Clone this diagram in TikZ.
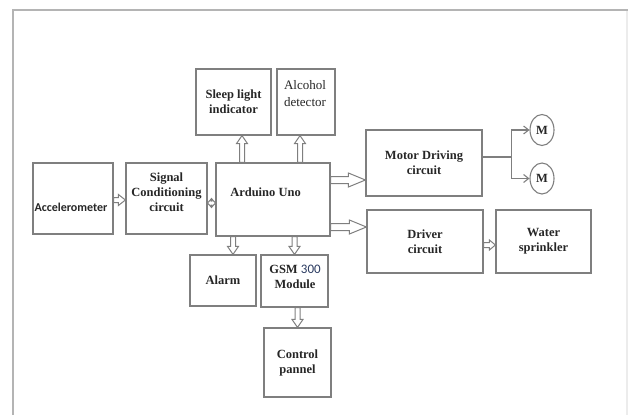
\documentclass[tikz,border=0pt]{standalone}
\usepackage{fontspec}
\setmainfont{Liberation Serif}
\newfontfamily\carl{Carlito}
\usetikzlibrary{calc,arrows.meta,shapes.geometric}
\definecolor{boxc}{HTML}{7F7F7F}
\definecolor{framec}{HTML}{B4B4B4}
\definecolor{faintc}{HTML}{ECECEC}
\definecolor{textc}{HTML}{262626}
\definecolor{numc}{HTML}{2A3A60}
\tikzset{
  bf/.style={font=\bfseries\fontsize{12.5}{15}\selectfont, text=textc},
  box/.style={draw=boxc, line width=1.2pt, align=center, inner sep=0pt, bf},
  txt/.style={align=center, inner sep=0pt, bf},
  motor/.style={draw=boxc, line width=1.1pt, ellipse, minimum width=24pt, minimum height=31pt, inner sep=0pt, bf},
  conn/.style={draw=boxc, line width=1.1pt},
  hollow/.style n args={3}{draw=boxc, line width=1pt, line join=miter, to path={
    -- ($(\tikztostart)!#1!90:(\tikztotarget)$)
    -- ($($(\tikztotarget)!#3!(\tikztostart)$)!#1!90:(\tikztotarget)$)
    -- ($($(\tikztotarget)!#3!(\tikztostart)$)!#2!90:(\tikztotarget)$)
    -- (\tikztotarget)
    -- ($($(\tikztotarget)!#3!(\tikztostart)$)!#2!-90:(\tikztotarget)$)
    -- ($($(\tikztotarget)!#3!(\tikztostart)$)!#1!-90:(\tikztotarget)$)
    -- ($(\tikztostart)!#1!-90:(\tikztotarget)$)
    -- cycle}},
  hollowtwo/.style n args={3}{draw=boxc, line width=1pt, line join=miter, to path={
    -- ($($(\tikztostart)!#3!(\tikztotarget)$)!#2!90:(\tikztotarget)$)
    -- ($($(\tikztostart)!#3!(\tikztotarget)$)!#1!90:(\tikztotarget)$)
    -- ($($(\tikztotarget)!#3!(\tikztostart)$)!#1!90:(\tikztotarget)$)
    -- ($($(\tikztotarget)!#3!(\tikztostart)$)!#2!90:(\tikztotarget)$)
    -- (\tikztotarget)
    -- ($($(\tikztotarget)!#3!(\tikztostart)$)!#2!-90:(\tikztotarget)$)
    -- ($($(\tikztotarget)!#3!(\tikztostart)$)!#1!-90:(\tikztotarget)$)
    -- ($($(\tikztostart)!#3!(\tikztotarget)$)!#1!-90:(\tikztotarget)$)
    -- ($($(\tikztostart)!#3!(\tikztotarget)$)!#2!-90:(\tikztotarget)$)
    -- cycle}}
}
\begin{document}
\begin{tikzpicture}[x=1pt,y=-1pt]
\useasboundingbox (0,0) rectangle (628,415);
% frame
\draw[framec, line width=2.5pt] (13,415) -- (13,10) -- (628,10);
\draw[faintc, line width=1.5pt] (627,11) -- (627,415);

% boxes
\node[box, minimum width=75pt, minimum height=66pt] (sleep) at (233.5,102) {Sleep light\\indicator};
\node[box, minimum width=58pt, minimum height=66pt] (alc) at (306,102) {};
\node[txt, font=\fontsize{13}{17}\selectfont] (alct) at (305,94) {Alcohol\\detector};
\node[box, minimum width=80pt, minimum height=71pt] (acc) at (73,198.5) {};
\node[txt, font=\carl\bfseries\fontsize{12}{14}\selectfont] (acct) at (71,207) {Accelerometer};
\node[box, minimum width=81pt, minimum height=71pt] (sig) at (166.5,198.5) {};
\node[txt] (sigt) at (166.5,192) {Signal\\Conditioning\\circuit};
\node[box, minimum width=114pt, minimum height=73pt] (ard) at (273,199.5) {};
\node[txt] (ardt) at (265.5,192) {Arduino Uno};
\node[box, minimum width=116pt, minimum height=66pt] (mot) at (424,163) {Motor Driving\\circuit};
\node[box, minimum width=116pt, minimum height=63pt] (drv) at (425,241.5) {Driver\\circuit};
\node[box, minimum width=95pt, minimum height=63pt] (wat) at (543.5,241.5) {Water\\sprinkler};
\node[box, minimum width=66pt, minimum height=51pt] (alarm) at (223,280.5) {Alarm};
\node[box, minimum width=67pt, minimum height=52pt] (gsm) at (294.5,281) {};
\node[txt] (gsmt) at (295,277) {GSM {\carl\mdseries\fontsize{13}{15}\selectfont\color{numc}300}\\Module};
\node[box, minimum width=67pt, minimum height=69pt] (ctl) at (297.5,362.5) {Control\\pannel};
\node[motor] (m1) at (542,130) {M};
\node[motor] (m2) at (542,178.5) {M};

% hollow arrows
\path ($(sleep.south)+(8.5,0)$) coordinate (s1);
\draw[hollow={2.5pt}{5.5pt}{8pt}] (ard.north -| s1) to (s1);
\path ($(alc.south)+(-6,0)$) coordinate (s2);
\draw[hollow={2.5pt}{5.5pt}{8pt}] (ard.north -| s2) to (s2);
\path ($(alarm.north)+(10,0)$) coordinate (s3);
\draw[hollow={2.5pt}{5.5pt}{8pt}] (ard.south -| s3) to (s3);
\draw[hollow={2.5pt}{5.5pt}{8pt}] (ard.south -| gsm.north) to (gsm.north);
\draw[hollow={2.5pt}{5.5pt}{8pt}] (gsm.south -| ctl.north) to (ctl.north);
\path ($(acc.east)+(0,1.5)$) coordinate (s4);
\draw[hollow={2.5pt}{5.5pt}{7pt}] (s4) to (s4 -| sig.west);
\path ($(sig.east)+(0,4.5)$) coordinate (s5);
\draw[hollowtwo={2pt}{4pt}{3.5pt}] (s5) to (s5 -| ard.west);
\path ($(ard.east)+(0,-19.5)$) coordinate (s6);
\draw[hollow={3.5pt}{7pt}{17pt}] (s6) to (s6 -| mot.west);
\path ($(ard.east)+(0,27.5)$) coordinate (s7);
\draw[hollow={3.5pt}{7pt}{17pt}] (s7) to (s7 -| drv.west);
\path ($(drv.east)+(0,3.5)$) coordinate (s8);
\draw[hollow={2.5pt}{5pt}{6pt}] (s8) to (s8 -| wat.west);

% motor lines
\path ($(mot.east)+(0,-6)$) coordinate (mo);
\coordinate (j) at ($(mo)+(29,0)$);
\draw[conn] (mo) -- (j);
\draw[conn, -{Straight Barb[length=5pt,width=8pt]}] (j) |- (m1.west);
\draw[conn, -{Straight Barb[length=5pt,width=8pt]}] (j) |- (m2.west);
\end{tikzpicture}
\end{document}
